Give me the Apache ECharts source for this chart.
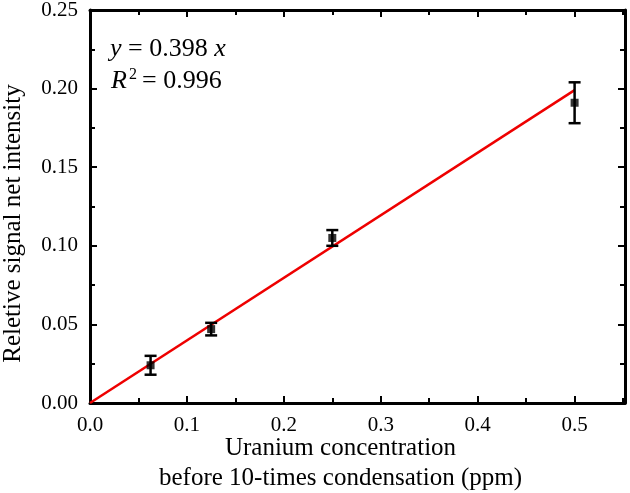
<!DOCTYPE html>
<html><head><meta charset="utf-8">
<script src="https://cdn.jsdelivr.net/npm/echarts@6/dist/echarts.min.js"></script>
<style>html,body{margin:0;padding:0;background:#fff}#c{width:630px;height:493px}</style>
</head><body><div id="c"></div>
<script>
var concX = [0.0625, 0.125, 0.25, 0.5];
var intensityY = [0.024, 0.047, 0.105, 0.191];
var errY = [0.006, 0.004, 0.005, 0.013];
var fitX = [0, 0.5];
var fitY = [0, 0.199];
var xTicks = ['0.0','0.1','0.2','0.3','0.4','0.5'];
var yTicks = ['0.00','0.05','0.10','0.15','0.20','0.25'];

var FONT = '"Liberation Serif","Times New Roman",serif';
var chart = echarts.init(document.getElementById('c'));
var axisCommon = {
  type: 'value',
  axisLine: {show: true, onZero: false, lineStyle: {color: '#000', width: 3}},
  axisTick: {show: true, inside: true, length: 7, lineStyle: {color: '#000', width: 2}},
  minorTick: {show: true, splitNumber: 2, length: 5, lineStyle: {color: '#000', width: 2}},
  splitLine: {show: false}
};
var pts = concX.map(function(x,i){return [x, intensityY[i]];});
var errData = concX.map(function(x,i){return [x, intensityY[i]-errY[i], intensityY[i]+errY[i]];});
chart.setOption({
  animation: false,
  grid: {left: 90, right: 5, top: 10, bottom: 90, outerBoundsMode: 'none', containLabel: false},
  xAxis: [
    Object.assign({}, axisCommon, {
      position: 'bottom', min: 0, max: 0.552, interval: 0.1,
      axisLabel: {show: true, showMaxLabel: false, color: '#000', fontFamily: FONT, fontSize: 21, margin: 12,
        formatter: function(v){ var i = Math.round(v/0.1); return Math.abs(v - i*0.1) < 1e-6 ? xTicks[i] : ''; }},
      name: 'Uranium concentration\nbefore 10-times condensation (ppm)',
      nameLocation: 'middle', nameGap: 30, nameMoveOverlap: false,
      nameTextStyle: {color: '#000', fontFamily: FONT, fontSize: 25, lineHeight: 30, padding: [0,34,0,0]}
    }),
    Object.assign({}, axisCommon, {
      position: 'top', min: 0, max: 0.552, interval: 0.1,
      axisLabel: {show: false}
    })
  ],
  yAxis: [
    Object.assign({}, axisCommon, {
      position: 'left', min: 0, max: 0.25, interval: 0.05,
      axisLabel: {show: true, color: '#000', fontFamily: FONT, fontSize: 21, margin: 12,
        formatter: function(v){ return yTicks[Math.round(v/0.05)]; }},
      name: 'Reletive signal net intensity', nameLocation: 'middle', nameGap: 64, nameMoveOverlap: false,
      nameTextStyle: {color: '#000', fontFamily: FONT, fontSize: 25, padding: [0,34,0,0]}
    }),
    Object.assign({}, axisCommon, {
      position: 'right', min: 0, max: 0.25, interval: 0.05,
      axisLabel: {show: false}
    })
  ],
  series: [
    {
      type: 'line', data: fitX.map(function(x,i){return [x, fitY[i]];}),
      showSymbol: false, lineStyle: {color: '#ee0000', width: 2.5}, z: 3
    },
    {
      type: 'custom', data: errData, z: 4,
      renderItem: function(params, api){
        var x = api.value(0);
        var lo = api.coord([x, api.value(1)]);
        var hi = api.coord([x, api.value(2)]);
        var w = 6;
        var s = {stroke: '#000', lineWidth: 2.5};
        return {type: 'group', children: [
          {type: 'line', shape: {x1: lo[0], y1: lo[1], x2: hi[0], y2: hi[1]}, style: s},
          {type: 'line', shape: {x1: lo[0]-w, y1: lo[1], x2: lo[0]+w, y2: lo[1]}, style: s},
          {type: 'line', shape: {x1: hi[0]-w, y1: hi[1], x2: hi[0]+w, y2: hi[1]}, style: s}
        ]};
      },
      encode: {x: 0, y: [1, 2]}
    },
    {
      type: 'scatter', data: pts, symbol: 'rect', symbolSize: 8,
      itemStyle: {color: '#000'}, z: 5
    }
  ],
  graphic: [
    {type: 'text', left: 110, top: 36, style: {
      text: '{i|y} = 0.398 {i|x}', fill: '#000', font: '26px ' + FONT,
      rich: {i: {fontStyle: 'italic', fontFamily: FONT, fontSize: 26}}
    }},
    {type: 'text', left: 111, top: 68, style: {
      text: '{i|R}', fill: '#000', font: '26px ' + FONT,
      rich: {i: {fontStyle: 'italic', fontFamily: FONT, fontSize: 26}}
    }},
    {type: 'text', left: 129, top: 67, style: {text: '2', fill: '#000', font: '16px ' + FONT}},
    {type: 'text', left: 142, top: 68, style: {text: '= 0.996', fill: '#000', font: '26px ' + FONT}}
  ]
});
</script></body></html>
